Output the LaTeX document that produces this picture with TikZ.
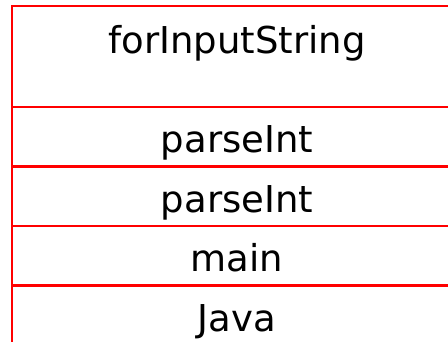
\documentclass[tikz,border=0pt]{standalone}
\usepackage{fontspec}
\setmainfont{DejaVu Sans}
\usetikzlibrary{positioning}

\begin{document}
\begin{tikzpicture}[x=1pt,y=-1pt, frame/.style={draw=red,line width=2.4pt,minimum width=450pt,minimum height=59.5pt,inner sep=0pt,outer sep=0pt,text height=32pt,text depth=0pt,font=\fontsize{37}{41}\selectfont}]
              \path[use as bounding box,clip] (0,0) rectangle (448,342);

              \node[frame,minimum height=101pt,text height=26pt,text depth=31pt] (top) at (237,56.5) {forInputString};
              \node[frame,below=0pt of top] (parse1) {parseInt};
              \node[frame,below=0pt of parse1] (parse2) {parseInt};
              \node[frame,below=0pt of parse2] (main) {main};
              \node[frame,below=0pt of main] (java) {Java};
            \end{tikzpicture}
\end{document}
